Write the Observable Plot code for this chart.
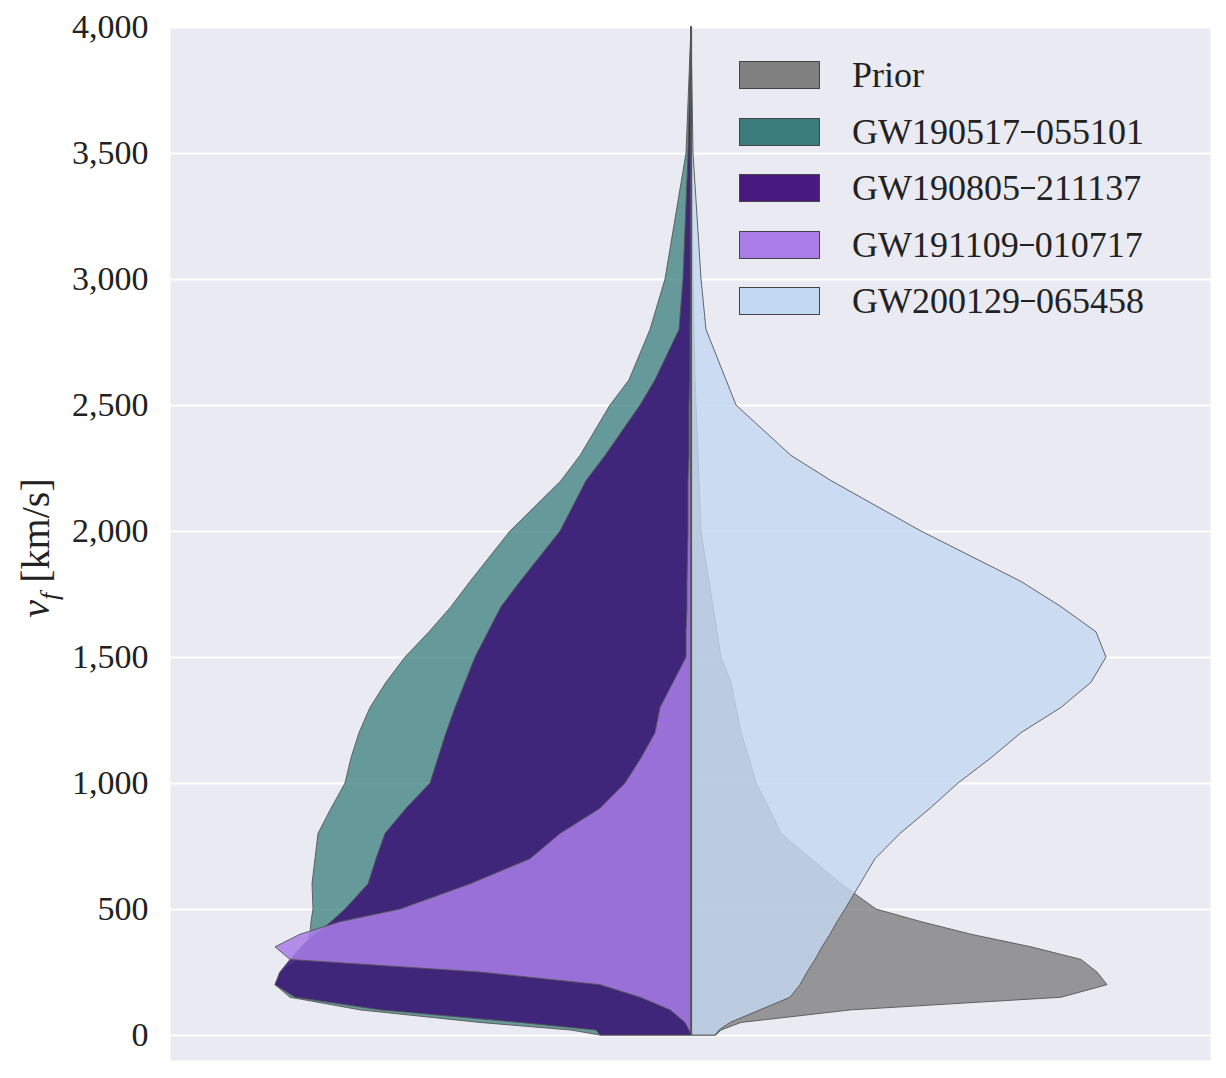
<!DOCTYPE html>
<html><head><meta charset="utf-8">
<script src="https://cdn.jsdelivr.net/npm/d3@7"></script>
<script src="https://cdn.jsdelivr.net/npm/@observablehq/plot@0.6"></script>
<style>
body{margin:0;background:#fff;font-family:"Liberation Serif","DejaVu Serif",serif;}
#wrap{position:relative;width:1226px;height:1078px;}
.leg{position:absolute;left:739px;display:flex;align-items:center;font-size:36px;color:#222;}
.leg span.b{display:inline-block;width:81px;height:28px;border:1px solid #444;margin-right:32px;box-sizing:border-box;}
#ylab{position:absolute;left:38px;top:548px;transform:translate(-50%,-50%) rotate(-90deg);font-size:40px;color:#222;white-space:nowrap;}
</style></head><body>
<div id="wrap"></div>
<script>
const velocities = [4000,3500,3000,2800,2600,2500,2300,2200,2000,1800,1700,1600,1500,1400,1300,1200,1100,1000,900,800,700,600,500,450,400,350,300,250,200,150,100,50,20,0];
// half-widths (density, in plot units) for each series at the velocities above
const gw190517 = [0,5,26,41,62,81,111,130,181,221,240,262,286,305,321,332,340,346,360,373,376,379,378,380,381,386,391,411,416,401,331,211,120,91];
const gw190805 = [0,3,8,12,36,51,86,105,131,171,190,203,216,226,236,245,253,261,285,306,315,323,346,360,376,390,401,411,416,396,311,171,95,91];
const gw191109 = [0,0,0,1,1,2,2,3,3,4,4,5,5,18,31,36,50,66,91,131,161,221,291,351,391,416,401,211,91,51,21,6,2,0];
const prior    = [0,1,2,3,4,5,7,8,10,18,22,26,30,40,45,50,58,65,78,90,120,150,185,230,280,340,390,406,416,370,160,50,30,25];
const gw200129 = [0,2,10,15,35,45,100,140,230,330,370,405,415,400,370,330,300,267,239,209,184,169,154,146,139,131,124,116,109,99,69,39,28,24];
const yTicks = [0,500,1000,1500,2000,2500,3000,3500,4000];
const legendLabels = ["Prior","GW190517_055101","GW190805_211137","GW191109_010717","GW200129_065458"];
const legendColors = ["#808080","#3a7d7c","#481a80","#a97ee8","#c3d8f2"];

const mk = arr => velocities.map((v,i)=>({v, w:arr[i]}));
const st = {stroke:"#555", strokeWidth:0.9};
const left = (arr, fill, op) => Plot.areaX(mk(arr), {y:"v", x1:d=>-d.w, x2:0, fill, fillOpacity:op, ...st});
const right = (arr, fill, op) => Plot.areaX(mk(arr), {y:"v", x1:0, x2:d=>d.w, fill, fillOpacity:op, ...st});

const chart = Plot.plot({
  width:1226, height:1078,
  marginLeft:170, marginRight:16, marginTop:27, marginBottom:18,
  style:{fontFamily:"Liberation Serif, DejaVu Serif, serif", fontSize:"34px", color:"#222", background:"transparent"},
  x:{domain:[-521,519], axis:null},
  y:{domain:[-99,4000]},
  marks:[
    Plot.frame({fill:"#eaeaf2", stroke:null}),
    Plot.gridY(yTicks, {stroke:"white", strokeOpacity:1, strokeWidth:2}),
    Plot.axisY(yTicks, {tickSize:0, tickPadding:22, label:null, fontSize:34}),
    left(gw190517, "#3a7d7c", 0.75),
    left(gw190805, "#3c1a78", 0.9),
    left(gw191109, "#a97ee8", 0.85),
    right(prior, "#808080", 0.8),
    right(gw200129, "#c3d8f2", 0.82),
    Plot.ruleX([0], {y1:0, y2:4000, stroke:"#555", strokeWidth:1.2})
  ]
});
const wrap = document.getElementById("wrap");
wrap.appendChild(chart);
const rowY = [76,133,189,246,302];
legendLabels.forEach((t,i)=>{
  const d = document.createElement("div");
  d.className="leg"; d.style.top=(rowY[i]-22)+"px";
  d.innerHTML = `<span class="b" style="background:${legendColors[i]}"></span>${t.replace("_","<span style='display:inline-block;width:14px;border-bottom:2px solid #222;height:0;margin:0 1px;vertical-align:baseline'></span>")}`;
  wrap.appendChild(d);
});
const yl = document.createElement("div");
yl.id="ylab"; yl.innerHTML = "<i>v</i><sub style='font-size:26px'><i>f</i></sub> [km/s]";
wrap.appendChild(yl);
</script>
</body></html>
